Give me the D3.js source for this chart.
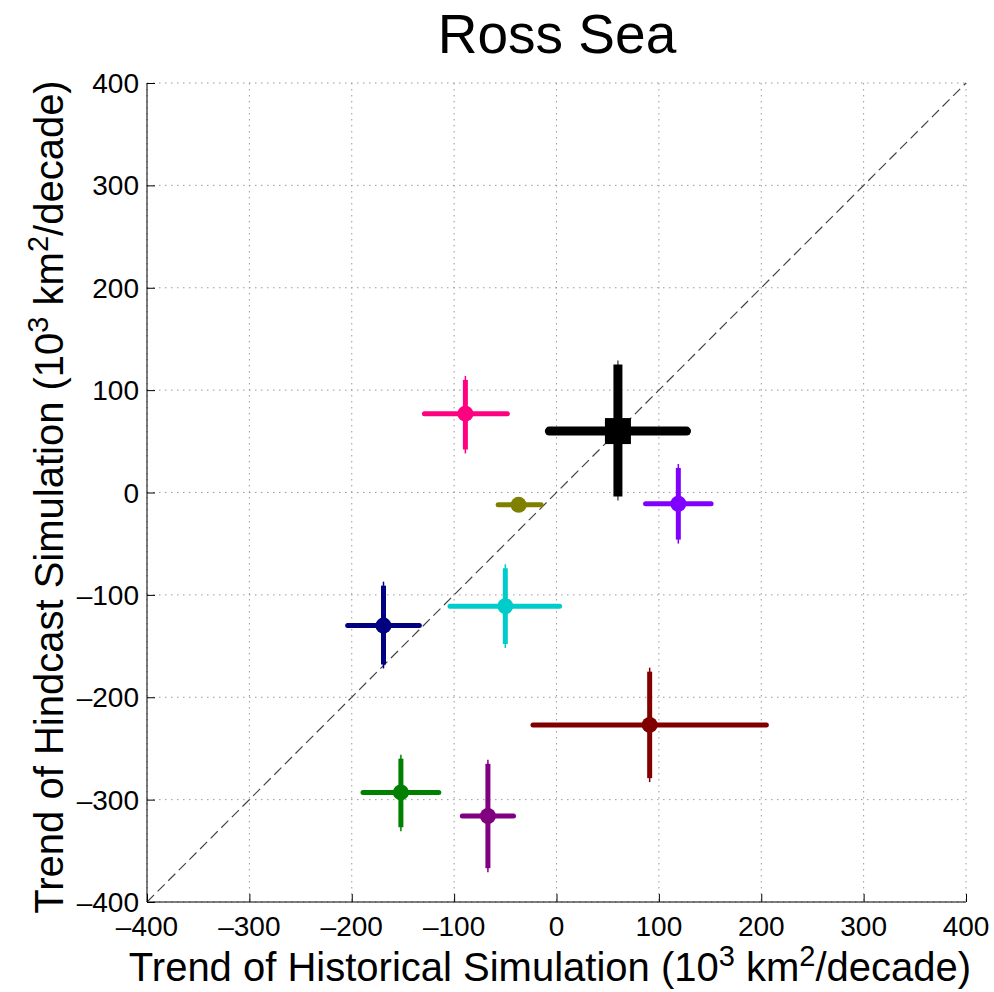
<!DOCTYPE html>
<html>
<head>
<meta charset="utf-8">
<script src="https://cdn.jsdelivr.net/npm/d3@7"></script>
<style>
  body { margin: 0; background: #fff; }
  text { font-family: "Liberation Sans", Arial, Helvetica, sans-serif; fill: #000; }
</style>
</head>
<body>
<svg id="chart" width="994" height="992"></svg>
<script>
'use strict';

// values (10^3 km^2/decade)
var colors = ['#000000', '#ff0080', '#808000', '#8000ff', '#000080', '#00cccc', '#800000', '#008000', '#800080'];
var histTrend = [60, -89, -37, 119, -169, -50, 91, -152, -67];
var histLow   = [-7, -129, -57, 87, -204, -104, -23, -189, -92];
var histHigh  = [127, -48, -15, 151, -134, 3, 205, -115, -42];
var hindTrend = [60, 77, -12, -11, -130, -111, -227, -293, -316];
var hindLow   = [-4, 42, -12, -46, -168, -148, -279, -327, -367];
var hindHigh  = [125, 110, -12, 24, -91, -74, -175, -260, -265];
var tickValues = [-400, -300, -200, -100, 0, 100, 200, 300, 400];

var svg = d3.select('#chart');
var mLeft = 147, mRight = 966, mTop = 83, mBottom = 902;

var x = d3.scaleLinear().domain([-400, 400]).range([mLeft, mRight]);
var y = d3.scaleLinear().domain([-400, 400]).range([mBottom, mTop]);

var fmt = function(d){ return d < 0 ? '\u2013' + Math.abs(d) : String(d); };

// grid
var grid = svg.append('g').attr('class', 'grid');
grid.selectAll('line.gx').data(tickValues).enter().append('line')
  .attr('x1', function(d){ return x(d); }).attr('x2', function(d){ return x(d); })
  .attr('y1', mTop).attr('y2', mBottom)
  .attr('stroke', '#9a9a9a').attr('stroke-width', 1).attr('stroke-dasharray', '1.5,4.5');
grid.selectAll('line.gy').data(tickValues).enter().append('line')
  .attr('y1', function(d){ return y(d); }).attr('y2', function(d){ return y(d); })
  .attr('x1', mLeft).attr('x2', mRight)
  .attr('stroke', '#9a9a9a').attr('stroke-width', 1).attr('stroke-dasharray', '1.5,4.5');

// 1:1 line
svg.append('line')
  .attr('x1', x(-400)).attr('y1', y(-400)).attr('x2', x(400)).attr('y2', y(400))
  .attr('stroke', '#444').attr('stroke-width', 1.2).attr('stroke-dasharray', '10,5');

// axes (left + bottom only, ticks inward)
var xAxis = d3.axisBottom(x).tickValues(tickValues).tickSize(-8).tickFormat('');
var yAxis = d3.axisLeft(y).tickValues(tickValues).tickSize(-8).tickFormat('');
svg.append('g').attr('transform', 'translate(0,' + mBottom + ')').call(xAxis)
  .call(function(g){ g.select('.domain').attr('d', 'M' + mLeft + ',0H' + mRight); });
svg.append('g').attr('transform', 'translate(' + mLeft + ',0)').call(yAxis)
  .call(function(g){ g.select('.domain').attr('d', 'M0,' + mBottom + 'V' + mTop); });
svg.selectAll('.tick line').attr('stroke', '#000');
svg.selectAll('.domain').attr('stroke', '#000');

svg.selectAll('text.xt').data(tickValues).enter().append('text')
  .attr('x', function(d){ return x(d); }).attr('y', mBottom + 34)
  .attr('text-anchor', 'middle').style('font-size', '28px').text(fmt);
svg.selectAll('text.yt').data(tickValues).enter().append('text')
  .attr('x', mLeft - 8).attr('y', function(d){ return y(d) + 10; })
  .attr('text-anchor', 'end').style('font-size', '28px').text(fmt);

// error crosses
var idx = d3.range(histTrend.length);
var marks = svg.append('g');
idx.forEach(function(i){
  var c = colors[i], big = i === 0;
  var w = big ? 9 : 5;
  var g = marks.append('g');
  // thin whisker underneath the vertical bar
  g.append('line')
    .attr('x1', x(histTrend[i])).attr('x2', x(histTrend[i]))
    .attr('y1', y(hindLow[i]) + 4).attr('y2', y(hindHigh[i]) - 4)
    .attr('stroke', big ? '#555' : c).attr('stroke-width', 1.5);
  g.append('line')
    .attr('x1', x(histTrend[i])).attr('x2', x(histTrend[i]))
    .attr('y1', y(hindLow[i])).attr('y2', y(hindHigh[i]))
    .attr('stroke', c).attr('stroke-width', w);
  g.append('line')
    .attr('x1', x(histLow[i])).attr('x2', x(histHigh[i]))
    .attr('y1', y(hindTrend[i])).attr('y2', y(hindTrend[i]))
    .attr('stroke', c).attr('stroke-width', w).attr('stroke-linecap', 'round');
  if (big) {
    g.append('rect')
      .attr('x', x(histTrend[i]) - 13).attr('y', y(hindTrend[i]) - 13)
      .attr('width', 26).attr('height', 26).attr('fill', c);
  } else {
    g.append('circle')
      .attr('cx', x(histTrend[i])).attr('cy', y(hindTrend[i]))
      .attr('r', 8).attr('fill', c);
  }
});

// titles
svg.append('text').attr('x', 557).attr('y', 53)
  .attr('text-anchor', 'middle').style('font-size', '55px').text('Ross Sea');

function unitLabel(sel, prefix) {
  sel.append('tspan').text(prefix + ' (10');
  sel.append('tspan').attr('dy', -15).style('font-size', '29px').text('3');
  sel.append('tspan').attr('dy', 15).text(' km');
  sel.append('tspan').attr('dy', -15).style('font-size', '29px').text('2');
  sel.append('tspan').attr('dy', 15).text('/decade)');
}

var xl = svg.append('text').attr('x', 550).attr('y', 981)
  .attr('text-anchor', 'middle').style('font-size', '40px');
unitLabel(xl, 'Trend of Historical Simulation');

var yl = svg.append('text').attr('transform', 'translate(63,497) rotate(-90)')
  .attr('text-anchor', 'middle').style('font-size', '40px');
unitLabel(yl, 'Trend of Hindcast Simulation');
</script>
</body>
</html>
